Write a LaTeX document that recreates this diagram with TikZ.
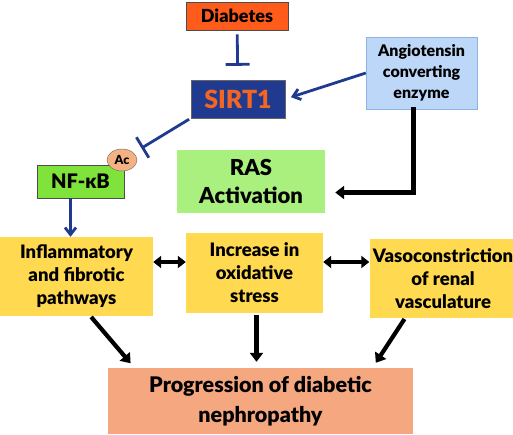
\documentclass[tikz,border=0pt]{standalone}
\usepackage{fontspec}
\setmainfont{Lato}[BoldFont={Lato Black}]
\usetikzlibrary{arrows.meta, positioning, calc, shapes.geometric}
\definecolor{cDiab}{HTML}{FF5B1A}
\definecolor{cNavy}{HTML}{1F3A8F}
\definecolor{cSirtText}{HTML}{F26522}
\definecolor{cAce}{HTML}{BDD7F8}
\definecolor{cAceLine}{HTML}{8DB3E2}
\definecolor{cRas}{HTML}{A9F07E}
\definecolor{cNfkb}{HTML}{7FE33B}
\definecolor{cAc}{HTML}{F4B183}
\definecolor{cYellow}{HTML}{FFD94F}
\definecolor{cProg}{HTML}{F5A77F}
\tikzset{
	box/.style      ={rectangle, minimum width=#1, inner sep=0pt, align=center, font=\bfseries\fontsize{18.5}{23}\selectfont},
	box/.default=2cm,
	effect/.style   ={box=#1, fill=cYellow, minimum height=79pt},
	sig/.style      ={-{Straight Barb[length=7pt, width=11pt]}, line width=2.8pt, draw=cNavy},
	inhib/.style    ={-{Bar[width=24pt, line width=2.8pt]}, line width=2.8pt, draw=cNavy},
	blkarrow/.style ={-{Triangle[length=9pt, width=13pt]}, line width=4.2pt},
	dblarrow/.style ={{Triangle[length=8pt, width=12pt]}-{Triangle[length=8pt, width=12pt]}, line width=3.6pt},
}
\begin{document}
\begin{tikzpicture}[x=1pt, y=-1pt]
	\useasboundingbox (0,0) rectangle (513,434);
	% upper part
	\node[box=102pt, minimum height=28pt, fill=cDiab, draw=black!70, thick, font=\bfseries\fontsize{18}{20}\selectfont] (diab) at (237,16) {Diabetes};
	\node[box=94pt, minimum height=38pt, fill=cNavy, draw=black!60, text=cSirtText, font=\bfseries\fontsize{25}{28}\selectfont] (sirt) at (238,99) {SIRT1};
	\node[box=111pt, minimum height=72pt, fill=cAce, draw=cAceLine, font=\bfseries\fontsize{16}{21}\selectfont] (ace) at (421.5,73) {Angiotensin\\ converting\\ enzyme};
	\node[box=148pt, minimum height=63pt, fill=cRas, font=\bfseries\fontsize{22}{28}\selectfont] (ras) at (251,181.5) {RAS\\ Activation};
	\node[box=87pt, minimum height=33pt, fill=cNfkb, draw=black!70, font=\bfseries\fontsize{20}{22}\selectfont] (nfkb) at (80.5,181.5) {NF-κB};
	\node[ellipse, minimum width=30pt, minimum height=22pt, inner sep=0pt, fill=cAc, draw=black!60, font=\bfseries\fontsize{12.5}{14}\selectfont] (ac) at (122,160) {Ac};
	% effects
	\node[effect=153pt] (infl) at (76.5,276.5) {Inflammatory\\ and fibrotic\\ pathways};
	\node[effect=137pt, minimum height=80pt] (oxid) at (254.5,273) {Increase in\\ oxidative\\ stress};
	\node[effect=147pt] (vaso) at (443,278.5) {Vasoconstriction\\ of renal\\ vasculature};
	\node[box=305pt, minimum height=66pt, fill=cProg, font=\bfseries\fontsize{21.5}{30}\selectfont] (prog) at (260.5,401) {Progression of diabetic\\ nephropathy};
	% connectors
	\draw[inhib, shorten <=4pt, shorten >=14pt] (diab) -- (sirt);
	\draw[sig, shorten >=6pt] (ace.west) -- (sirt.east);
	\draw[inhib, shorten <=2pt, shorten >=9pt] (sirt.south west) -- (ac);
	\draw[sig] ([xshift=-10pt]nfkb.south) -- ([xshift=-10pt]nfkb.south |- infl.north);
	\draw[blkarrow, line cap=rect] ([xshift=-8pt]ace.south) |- ([yshift=-11pt, xshift=10pt]ras.east);
	\draw[dblarrow] ([yshift=11pt]oxid.west -| infl.east) -- ([yshift=11pt]oxid.west);
	\draw[dblarrow] ([yshift=11pt]oxid.east) -- ([yshift=11pt]oxid.east -| vaso.west);
	\draw[blkarrow, shorten <=1pt, shorten >=6pt] ([xshift=14pt]infl.south) -- ([xshift=-126pt]prog.north);
	\draw[blkarrow, shorten <=2pt, shorten >=6pt] ([xshift=2pt]oxid.south) -- ([xshift=2pt]oxid.south |- prog.north);
	\draw[blkarrow, shorten <=1pt, shorten >=6pt] ([xshift=-38pt]vaso.south) -- ([xshift=112pt]prog.north);
\end{tikzpicture}
\end{document}
